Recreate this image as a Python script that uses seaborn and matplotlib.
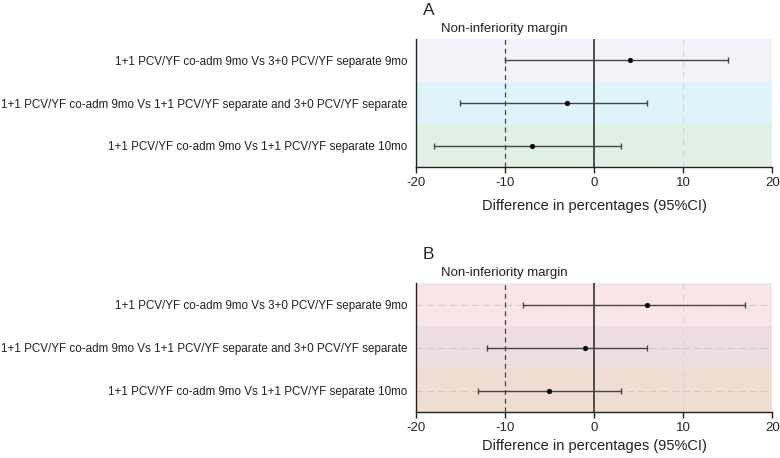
import numpy as np
import pandas as pd
import seaborn as sns
import matplotlib.pyplot as plt

comparisons = [
    "1+1 PCV/YF co-adm 9mo Vs 3+0 PCV/YF separate 9mo",
    "1+1 PCV/YF co-adm 9mo Vs 1+1 PCV/YF separate and 3+0 PCV/YF separate",
    "1+1 PCV/YF co-adm 9mo Vs 1+1 PCV/YF separate 10mo",
]
est_a = [4, -3, -7]
low_a = [-10, -15, -18]
high_a = [15, 6, 3]
est_b = [6, -1, -5]
low_b = [-8, -12, -13]
high_b = [17, 6, 3]
panel_labels = ["A", "B"]
band_colors_a = ["#f4f2f8", "#dff3fa", "#dff0e5"]
band_colors_b = ["#f9e4e8", "#eddce2", "#eeddd0"]
x_ticks = [-20, -10, 0, 10, 20]

sns.set_style("white")
plt.rcParams['font.family'] = ['Liberation Sans', 'DejaVu Sans']
plt.rcParams['axes.unicode_minus'] = False

fig = plt.figure(figsize=(7.8, 4.58), dpi=100)
ax_a = fig.add_axes([0.533, 0.635, 0.457, 0.280])
ax_b = fig.add_axes([0.533, 0.100, 0.457, 0.282])


def draw_panel(ax, est, low, high, bands, label, hgrid, lpad):
    df = pd.DataFrame({"comparison": comparisons, "est": est,
                       "low": low, "high": high})
    ypos = np.arange(len(df))
    for i, c in enumerate(bands):
        ax.axhspan(i - 0.5, i + 0.5, color=c, zorder=0, lw=0)
    if hgrid:
        for y in ypos:
            ax.axhline(y, color="#d8c8cc", ls=(0, (6, 4)), lw=0.8, zorder=1)
    ax.axvline(10, color="#d6d6d6", ls=(0, (6, 4)), lw=0.8, zorder=1)
    ax.axvline(20, color="#d6d6d6", lw=0.8, zorder=1)
    ax.axvline(-10, color="#444444", ls=(0, (4, 3)), lw=0.9, zorder=2)
    ax.axvline(0, color="#222222", lw=1.1, zorder=2)
    ax.errorbar(df["est"], ypos,
                xerr=[df["est"] - df["low"], df["high"] - df["est"]],
                fmt="none", ecolor="#444444", elinewidth=1.0,
                capsize=2.5, capthick=1.0, zorder=3)
    sns.scatterplot(x=df["est"], y=ypos, ax=ax, color="black", s=12,
                    edgecolor="black", zorder=4, legend=False)
    ax.set_xlim(-20, 20)
    ax.set_ylim(2.5, -0.5)
    ax.set_xticks(x_ticks)
    ax.set_yticks(ypos)
    ax.set_yticklabels(df["comparison"], fontsize=8.4, color="#222222")
    ax.tick_params(axis="y", length=0, pad=6)
    ax.tick_params(axis="x", length=4, width=1, color="#222222",
                   labelsize=9.5, pad=3, bottom=True)
    ax.set_xlabel("Difference in percentages (95%CI)", fontsize=10.5,
                  color="#222222", labelpad=lpad)
    ax.set_ylabel("")
    for s in ["top", "right"]:
        ax.spines[s].set_visible(False)
    for s in ["left", "bottom"]:
        ax.spines[s].set_color("#222222")
        ax.spines[s].set_linewidth(1.0)
    ax.text(0.02, 1.22, label, transform=ax.transAxes, fontsize=12.5,
            va="center", ha="left")
    ax.text(0.07, 1.075, "Non-inferiority margin", transform=ax.transAxes,
            fontsize=9.5, va="center", ha="left", color="#222222")


draw_panel(ax_a, est_a, low_a, high_a, band_colors_a, panel_labels[0], False, 7)
draw_panel(ax_b, est_b, low_b, high_b, band_colors_b, panel_labels[1], True, 4)

fig.savefig("out.png", dpi=100)
